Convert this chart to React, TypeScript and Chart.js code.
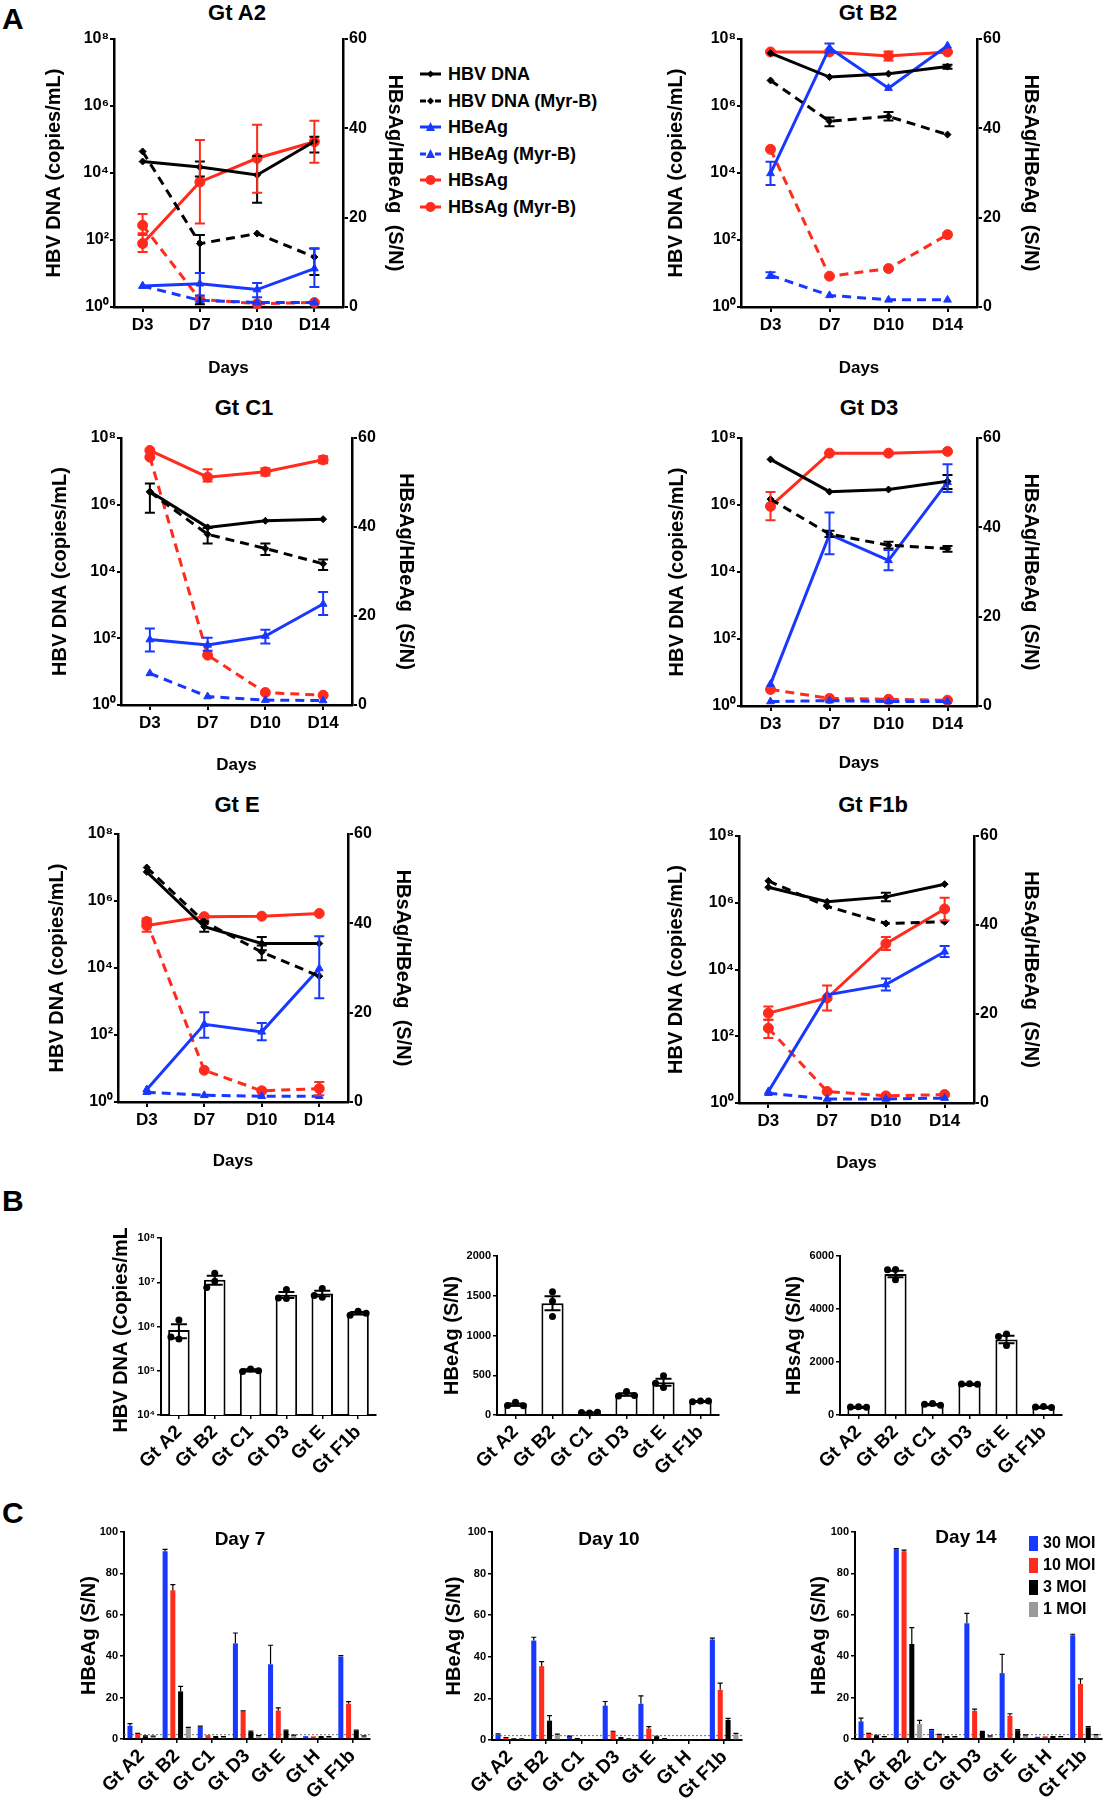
import React, { useEffect, useRef } from 'react';
import { Chart, registerables } from 'chart.js';

Chart.register(...registerables);

const FONT = '"Liberation Sans", Arial, Helvetica, sans-serif';
Chart.defaults.font.family = FONT;
Chart.defaults.color = '#000';

const BLUE = '#1838ff';
const RED = '#ff2b1c';
const BLACK = '#000000';
const GRAY = '#9a9a9a';

type Pair = [number, number] | null;
const NO_ERR: Pair[] = [null, null, null, null];

// ================= Panel A =================
const DAYS = ['D3', 'D7', 'D10', 'D14'];
const A_LOG_TICKS = [1, 1e2, 1e4, 1e6, 1e8];
const A_SN_MIN = 0;
const A_SN_MAX = 60;
const A_SN_STEP = 20;
const SERIES_NAMES = ['HBV DNA', 'HBV DNA (Myr-B)', 'HBeAg', 'HBeAg (Myr-B)', 'HBsAg', 'HBsAg (Myr-B)'];

// Gt A2
const GT_A2_DNA = [2.2e4, 1.5e4, 8.7e3, 8.7e4];
const GT_A2_DNA_ERR: Pair[] = [null, [7.8e3, 2.2e4], [1.3e3, 3.2e4], [4.1e4, 1.2e5]];
const GT_A2_DNA_MYRB = [4.4e4, 78, 156, 31];
const GT_A2_DNA_MYRB_ERR: Pair[] = [null, [1.2, 140], null, [9, 56]];
const GT_A2_HBEAG = [4.7, 5.2, 3.9, 8.6];
const GT_A2_HBEAG_ERR: Pair[] = [null, [2.6, 7.6], [2.2, 5.4], [4.5, 13.1]];
const GT_A2_HBEAG_MYRB = [4.7, 1.5, 1.0, 1.0];
const GT_A2_HBSAG = [14.2, 28.0, 33.3, 37.0];
const GT_A2_HBSAG_ERR: Pair[] = [[12.3, 16.1], [18.7, 37.4], [25.6, 40.8], [32.3, 41.7]];
const GT_A2_HBSAG_MYRB = [18.3, 1.7, 0.75, 1.0];
const GT_A2_HBSAG_MYRB_ERR: Pair[] = [[16.5, 20.8], null, null, null];

// Gt B2
const GT_B2_DNA = [3.8e7, 7.3e6, 9.2e6, 1.5e7];
const GT_B2_DNA_ERR: Pair[] = [null, null, null, [1.3e7, 1.7e7]];
const GT_B2_DNA_MYRB = [5.8e6, 3.5e5, 4.9e5, 1.4e5];
const GT_B2_DNA_MYRB_ERR: Pair[] = [null, [2.5e5, 4.5e5], [3.7e5, 6.6e5], null];
const GT_B2_HBEAG = [29.9, 58.0, 49.0, 58.5];
const GT_B2_HBEAG_ERR: Pair[] = [[27.3, 32.5], [57.0, 59.0], null, null];
const GT_B2_HBEAG_MYRB = [7.1, 2.6, 1.6, 1.6];
const GT_B2_HBEAG_MYRB_ERR: Pair[] = [[6.5, 7.8], null, null, null];
const GT_B2_HBSAG = [57.1, 57.1, 56.2, 57.1];
const GT_B2_HBSAG_ERR: Pair[] = [null, null, [55.2, 57.2], null];
const GT_B2_HBSAG_MYRB = [35.3, 6.9, 8.6, 16.2];

// Gt C1
const GT_C1_DNA = [2.5e6, 2.1e5, 3.3e5, 3.7e5];
const GT_C1_DNA_ERR: Pair[] = [[5.8e5, 4.3e6], null, null, null];
const GT_C1_DNA_MYRB = [2.4e6, 1.3e5, 4.9e4, 1.7e4];
const GT_C1_DNA_MYRB_ERR: Pair[] = [null, [6.9e4, 2.0e5], [3.1e4, 6.9e4], [1.1e4, 2.3e4]];
const GT_C1_HBEAG = [14.7, 13.5, 15.5, 22.7];
const GT_C1_HBEAG_ERR: Pair[] = [[12.0, 17.2], [12.2, 15.1], [13.8, 16.9], [20.2, 25.4]];
const GT_C1_HBEAG_MYRB = [7.1, 1.9, 1.1, 1.0];
const GT_C1_HBSAG = [57.2, 51.2, 52.4, 55.1];
const GT_C1_HBSAG_ERR: Pair[] = [null, [50.2, 53.0], [51.6, 53.2], [54.3, 55.9]];
const GT_C1_HBSAG_MYRB = [55.7, 11.2, 2.8, 2.2];

// Gt D3
const GT_D3_DNA = [2.3e7, 2.5e6, 2.9e6, 5.1e6];
const GT_D3_DNA_ERR: Pair[] = [null, null, null, [3.0e6, 7.8e6]];
const GT_D3_DNA_MYRB = [1.5e6, 1.35e5, 6.3e4, 5.0e4];
const GT_D3_DNA_MYRB_ERR: Pair[] = [null, [1.1e5, 1.7e5], [5.0e4, 8.0e4], [4.0e4, 6.0e4]];
const GT_D3_HBEAG = [4.9, 38.4, 32.6, 50.1];
const GT_D3_HBEAG_ERR: Pair[] = [null, [34.0, 43.3], [30.4, 34.9], [47.9, 54.1]];
const GT_D3_HBEAG_MYRB = [1.0, 1.2, 1.0, 1.0];
const GT_D3_HBSAG = [44.7, 56.6, 56.6, 57.0];
const GT_D3_HBSAG_ERR: Pair[] = [[41.6, 47.9], null, null, null];
const GT_D3_HBSAG_MYRB = [3.7, 1.7, 1.5, 1.3];

// Gt E
const GT_E_DNA = [7.4e6, 1.7e5, 5.4e4, 5.4e4];
const GT_E_DNA_ERR: Pair[] = [null, [1.2e5, 2.5e5], [3.4e4, 8.4e4], null];
const GT_E_DNA_MYRB = [1.0e7, 2.4e5, 3.0e4, 5.7e3];
const GT_E_DNA_MYRB_ERR: Pair[] = [null, null, [1.7e4, 4.7e4], null];
const GT_E_HBEAG = [2.8, 17.4, 15.7, 29.9];
const GT_E_HBEAG_ERR: Pair[] = [null, [14.4, 20.1], [13.8, 17.7], [23.2, 37.1]];
const GT_E_HBEAG_MYRB = [2.2, 1.5, 1.3, 1.3];
const GT_E_HBSAG = [39.5, 41.5, 41.6, 42.2];
const GT_E_HBSAG_ERR: Pair[] = [[38.1, 41.1], null, null, null];
const GT_E_HBSAG_MYRB = [40.4, 7.1, 2.5, 3.0];
const GT_E_HBSAG_MYRB_ERR: Pair[] = [null, null, null, [1.5, 4.5]];

// Gt F1b
const GT_F1B_DNA = [2.9e6, 1.07e6, 1.5e6, 3.6e6];
const GT_F1B_DNA_ERR: Pair[] = [null, null, [1.1e6, 2.0e6], null];
const GT_F1B_DNA_MYRB = [4.5e6, 7.8e5, 2.4e5, 2.7e5];
const GT_F1B_HBEAG = [2.6, 24.3, 26.6, 34.0];
const GT_F1B_HBEAG_ERR: Pair[] = [null, null, [25.3, 28.0], [32.8, 35.3]];
const GT_F1B_HBEAG_MYRB = [2.2, 0.9, 0.9, 1.1];
const GT_F1B_HBSAG = [20.2, 23.6, 35.8, 43.6];
const GT_F1B_HBSAG_ERR: Pair[] = [[18.7, 21.7], [20.8, 26.4], [34.4, 37.3], [41.0, 46.1]];
const GT_F1B_HBSAG_MYRB = [16.8, 2.6, 1.6, 1.9];
const GT_F1B_HBSAG_MYRB_ERR: Pair[] = [[14.6, 18.7], null, null, null];

// ================= Panel B =================
const B_LABELS = ['Gt A2', 'Gt B2', 'Gt C1', 'Gt D3', 'Gt E', 'Gt F1b'];
const B_DNA_TICKS = [1e4, 1e5, 1e6, 1e7, 1e8];
const B_DNA_MEAN = [8.3e5, 1.14e7, 1.02e5, 5.2e6, 5.6e6, 2.0e6];
const B_DNA_SEM = [2.9e5, 2.6e6, 6e3, 8e5, 8e5, 1.3e5];
const B_DNA_REPS = [[1.4e6, 5.2e5, 5.8e5], [1.6e7, 1.05e7, 7.6e6], [1.1e5, 9.6e4, 1.0e5], [6.9e6, 4.3e6, 4.4e6], [7.2e6, 4.6e6, 5.0e6], [2.2e6, 1.8e6, 2.0e6]];
const B_HBEAG_MAX = 2000;
const B_HBEAG_STEP = 500;
const B_HBEAG_MEAN = [130, 1406, 30, 258, 412, 172];
const B_HBEAG_SEM = [14, 88, 3, 16, 45, 4];
const B_HBEAG_REPS = [[160, 118, 115], [1550, 1430, 1240], [25, 30, 35], [295, 240, 245], [495, 345, 400], [175, 166, 175]];
const B_HBSAG_MAX = 6000;
const B_HBSAG_STEP = 2000;
const B_HBSAG_MEAN = [300, 5320, 400, 1170, 2850, 300];
const B_HBSAG_SEM = [12, 120, 18, 10, 140, 14];
const B_HBSAG_REPS = [[315, 300, 290], [5490, 5480, 5100], [430, 410, 370], [1180, 1170, 1160], [3060, 2960, 2620], [320, 300, 285]];

// ================= Panel C =================
const C_LABELS = ['Gt A2', 'Gt B2', 'Gt C1', 'Gt D3', 'Gt E', 'Gt H', 'Gt F1b'];
const C_SERIES = ['30 MOI', '10 MOI', '3 MOI', '1 MOI'];
const C_MAX = 100;
const C_STEP = 20;
const C_CUTOFF = 2.1;

const D7_30 = [6.4, 90.7, 5.9, 46.2, 36.1, 1.4, 39.8];
const D7_10 = [2.4, 71.9, 1.9, 13.3, 13.8, 1.3, 17.0];
const D7_3 = [1.3, 23.0, 1.0, 3.4, 4.0, 1.0, 4.0];
const D7_1 = [1.3, 5.3, 1.0, 1.6, 1.8, 1.0, 1.4];
const D7_30_ERR = [1.0, 0.9, 0.3, 5.0, 9.2, 0, 0.5];
const D7_10_ERR = [0.3, 2.7, 0, 0.3, 1.2, 0, 1.1];
const D7_3_ERR = [0.2, 2.4, 0.1, 0.4, 0.3, 0.1, 0.3];
const D7_1_ERR = [0.1, 0.3, 0.1, 0.1, 0.1, 0.1, 0.1];

const D10_30 = [2.6, 47.8, 1.8, 16.5, 17.4, 0.4, 48.3];
const D10_10 = [1.1, 35.5, 0.6, 3.9, 5.5, 0.4, 24.1];
const D10_3 = [0.5, 9.3, 0.3, 1.0, 1.6, 0.4, 9.6];
const D10_1 = [0.5, 2.4, 0.3, 0.5, 0.6, 0.4, 2.7];
const D10_30_ERR = [0.3, 1.6, 0.1, 2.0, 3.8, 0, 0.7];
const D10_10_ERR = [0.1, 2.2, 0.1, 0.3, 0.9, 0, 3.2];
const D10_3_ERR = [0.1, 2.4, 0, 0.2, 0.2, 0, 0.8];
const D10_1_ERR = [0.1, 0.4, 0, 0.1, 0.1, 0, 0.5];

const D14_30 = [8.5, 91.7, 4.3, 55.9, 31.8, 1.1, 50.1];
const D14_10 = [2.4, 90.7, 2.1, 13.6, 11.2, 1.3, 26.6];
const D14_3 = [1.6, 45.9, 1.0, 3.4, 4.2, 1.1, 5.6];
const D14_1 = [1.1, 7.2, 1.0, 1.4, 1.9, 1.1, 1.9];
const D14_30_ERR = [1.6, 0.3, 0.3, 4.8, 9.1, 0, 0.5];
const D14_10_ERR = [0.3, 0.5, 0.1, 0.8, 1.0, 0, 2.4];
const D14_3_ERR = [0.2, 7.9, 0.1, 0.3, 0.3, 0.1, 0.4];
const D14_1_ERR = [0.1, 1.8, 0.1, 0.1, 0.1, 0.1, 0.2];

// ================= helpers =================
const SUP: Record<string, string> = { '0': '⁰', '1': '¹', '2': '²', '3': '³', '4': '⁴', '5': '⁵', '6': '⁶', '7': '⁷', '8': '⁸', '9': '⁹', '-': '⁻' };
function powLabel(v: number): string {
  const e = Math.round(Math.log10(v));
  return '10' + String(e).split('').map((c) => SUP[c]).join('');
}
function plainLabel(v: any): string {
  return String(Math.round(Number(v)));
}
function fnt(size: number) {
  return { family: FONT, size, weight: 'bold' as const };
}

const marksPlugin: any = {
  id: 'marks',
  beforeDatasetsDraw(chart: any, _a: any, opts: any) {
    if (!opts || opts.cutoff == null) return;
    const ys = chart.scales.y;
    const area = chart.chartArea;
    const ctx = chart.ctx;
    const y = ys.getPixelForValue(opts.cutoff);
    ctx.save();
    ctx.strokeStyle = '#707070';
    ctx.lineWidth = 1;
    ctx.setLineDash([2, 2]);
    ctx.beginPath();
    ctx.moveTo(area.left, y);
    ctx.lineTo(area.right, y);
    ctx.stroke();
    ctx.restore();
  },
  afterDatasetsDraw(chart: any, _a: any, opts: any) {
    const ctx = chart.ctx;
    const cap = (opts && opts.cap) || 5;
    const lw = (opts && opts.lineWidth) || 2;
    ctx.save();
    ctx.setLineDash([]);
    chart.data.datasets.forEach((ds: any, i: number) => {
      const meta = chart.getDatasetMeta(i);
      const ys = chart.scales[meta.yAxisID];
      const pts = meta.data;
      if (ds.errPairs) {
        ctx.strokeStyle = ds.borderColor;
        ctx.lineWidth = lw;
        ds.errPairs.forEach((p: any, j: number) => {
          if (!p || !pts[j]) return;
          const x = pts[j].x;
          const y1 = ys.getPixelForValue(p[0]);
          const y2 = ys.getPixelForValue(p[1]);
          ctx.beginPath();
          ctx.moveTo(x, y1);
          ctx.lineTo(x, y2);
          ctx.moveTo(x - cap, y1);
          ctx.lineTo(x + cap, y1);
          ctx.moveTo(x - cap, y2);
          ctx.lineTo(x + cap, y2);
          ctx.stroke();
        });
      }
      if (ds.errSem) {
        ctx.strokeStyle = '#000';
        ctx.lineWidth = lw;
        ds.errSem.forEach((s: number, j: number) => {
          if (!s || !pts[j]) return;
          const m = ds.data[j];
          const x = pts[j].x;
          const yTop = ys.getPixelForValue(m + s);
          const yBot = ds.errUpOnly ? ys.getPixelForValue(m) : ys.getPixelForValue(m - s);
          ctx.beginPath();
          ctx.moveTo(x, yBot);
          ctx.lineTo(x, yTop);
          ctx.moveTo(x - cap, yTop);
          ctx.lineTo(x + cap, yTop);
          if (!ds.errUpOnly) {
            ctx.moveTo(x - cap, yBot);
            ctx.lineTo(x + cap, yBot);
          }
          ctx.stroke();
        });
      }
      if (ds.reps) {
        const r = (opts && opts.dotR) || 3.5;
        ctx.fillStyle = '#000';
        ds.reps.forEach((vals: number[], j: number) => {
          if (!pts[j]) return;
          const cx = pts[j].x;
          const placed: number[][] = [];
          vals.forEach((v) => {
            const y = ys.getPixelForValue(v);
            let x = cx;
            for (const k of [0, -1, 1, -2, 2]) {
              const tx = cx + k * (2 * r + 1);
              if (placed.every(([px, py]) => Math.hypot(px - tx, py - y) >= 2 * r)) {
                x = tx;
                break;
              }
            }
            placed.push([x, y]);
            ctx.beginPath();
            ctx.arc(x, y, r, 0, Math.PI * 2);
            ctx.fill();
          });
        });
      }
    });
    ctx.restore();
  },
};

interface GtData {
  dna: number[]; dnaErr: Pair[]; dnaM: number[]; dnaMErr: Pair[];
  e: number[]; eErr: Pair[]; eM: number[]; eMErr: Pair[];
  s: number[]; sErr: Pair[]; sM: number[]; sMErr: Pair[];
}
interface LineGeom { pl: number; pt: number; pr: number; pb: number; ltx: number; rtx: number; dy: number; }

function lineDs(label: string, data: number[], err: Pair[], color: string, dashed: boolean, style: string, radius: number, axis: string) {
  return {
    label, data, errPairs: err, yAxisID: axis,
    borderColor: color, backgroundColor: color, borderWidth: 3,
    borderDash: dashed ? [9, 6] : [],
    pointStyle: style, pointRadius: radius, pointBorderWidth: 1,
    pointBorderColor: color, pointBackgroundColor: color,
    tension: 0, fill: false, clip: 8,
  };
}

function axisCommon(tick: number) {
  return {
    grid: { drawOnChartArea: false, drawTicks: true, tickLength: tick, color: '#000', lineWidth: 2 },
    border: { display: true, color: '#000', width: 2.5 },
  };
}

function lineSpec(g: LineGeom, d: GtData) {
  const cl = Math.round(g.ltx - 14);
  const cr = Math.round(g.rtx + 14);
  const ct = g.pt - 14;
  const cb = Math.round(g.dy + 13);
  const make = () => ({
    type: 'line',
    data: {
      labels: DAYS,
      datasets: [
        lineDs(SERIES_NAMES[0], d.dna, d.dnaErr, BLACK, false, 'rectRot', 3.5, 'y'),
        lineDs(SERIES_NAMES[1], d.dnaM, d.dnaMErr, BLACK, true, 'rectRot', 3.5, 'y'),
        lineDs(SERIES_NAMES[2], d.e, d.eErr, BLUE, false, 'triangle', 4.5, 'y1'),
        lineDs(SERIES_NAMES[3], d.eM, d.eMErr, BLUE, true, 'triangle', 4.5, 'y1'),
        lineDs(SERIES_NAMES[4], d.s, d.sErr, RED, false, 'circle', 5, 'y1'),
        lineDs(SERIES_NAMES[5], d.sM, d.sMErr, RED, true, 'circle', 5, 'y1'),
      ],
    },
    options: {
      responsive: false,
      animation: false,
      events: [],
      layout: { padding: { top: g.pt - ct, left: 0, right: 0, bottom: 0 } },
      plugins: { legend: { display: false }, tooltip: { enabled: false }, title: { display: false }, marks: { cap: 5, lineWidth: 2 } },
      scales: {
        x: {
          type: 'category',
          offset: true,
          ...axisCommon(5),
          ticks: { font: fnt(17), color: '#000', padding: 3, maxRotation: 0, autoSkip: false },
          title: { display: true, text: 'Days', font: fnt(17), color: '#000', padding: { top: 0, bottom: cb - g.dy - 10.2 } },
          afterFit: (s: any) => { s.height = cb - g.pb; },
        },
        y: {
          type: 'logarithmic',
          position: 'left',
          min: A_LOG_TICKS[0],
          max: A_LOG_TICKS[A_LOG_TICKS.length - 1],
          afterBuildTicks: (s: any) => { s.ticks = A_LOG_TICKS.map((v) => ({ value: v, major: true })); },
          ...axisCommon(4),
          ticks: { font: fnt(16), color: '#000', padding: 1, autoSkip: false, callback: (v: any) => powLabel(Number(v)) },
          title: { display: true, text: 'HBV DNA (copies/mL)', font: fnt(20), color: '#000', padding: { top: g.ltx - cl - 12, bottom: 0 } },
          afterFit: (s: any) => { s.width = g.pl - cl; },
        },
        y1: {
          type: 'linear',
          position: 'right',
          min: A_SN_MIN,
          max: A_SN_MAX,
          ...axisCommon(5),
          ticks: { stepSize: A_SN_STEP, font: fnt(16), color: '#000', padding: 1, callback: plainLabel },
          title: { display: true, text: 'HBsAg/HBeAg  (S/N)', font: fnt(20), color: '#000', padding: { top: cr - 12 - g.rtx, bottom: 0 } },
          afterFit: (s: any) => { s.width = cr - g.pr; },
        },
      },
    },
    plugins: [marksPlugin],
  });
  return { x: cl, y: ct, w: cr - cl, h: cb - ct, make };
}

interface BarGeom { pl: number; pt: number; pr: number; pb: number; ltx: number; cb: number; }

function barSpec(g: BarGeom, labels: string[], datasets: any[], yOpts: any, yTitle: string, markOpts: any) {
  const cl = Math.round(g.ltx - 14);
  const cr = g.pr + 6;
  const ct = g.pt - 10;
  const make = () => ({
    type: 'bar',
    data: { labels, datasets: datasets.map((d) => ({ ...d })) },
    options: {
      responsive: false,
      animation: false,
      events: [],
      layout: { padding: { top: g.pt - ct, right: cr - g.pr, left: 0, bottom: 0 } },
      plugins: { legend: { display: false }, tooltip: { enabled: false }, marks: markOpts },
      scales: {
        x: {
          type: 'category',
          offset: true,
          grid: { offset: false, drawOnChartArea: false, drawTicks: true, tickLength: 4, color: '#000', lineWidth: 1.5 },
          border: { display: true, color: '#000', width: 2 },
          ticks: { font: fnt(19), color: '#000', padding: 2, minRotation: 45, maxRotation: 45, autoSkip: false },
          afterFit: (s: any) => { s.height = g.cb - g.pb; },
        },
        y: {
          ...yOpts,
          position: 'left',
          grid: { drawOnChartArea: false, drawTicks: true, tickLength: 4, color: '#000', lineWidth: 1.5 },
          border: { display: true, color: '#000', width: 2 },
          title: { display: true, text: yTitle, font: fnt(20), color: '#000', padding: { top: g.ltx - cl - 12, bottom: 0 } },
          afterFit: (s: any) => { s.width = g.pl - cl; },
        },
      },
    },
    plugins: [marksPlugin],
  });
  return { x: cl, y: ct, w: cr - cl, h: g.cb - ct, make };
}

function bDataset(mean: number[], sem: number[], reps: number[][]) {
  return [{
    label: 'mean', data: mean, errSem: sem, reps,
    backgroundColor: '#ffffff', borderColor: '#000', borderWidth: 2,
    barPercentage: 0.6, categoryPercentage: 1,
  }];
}

function cDatasets(vals: number[][], errs: number[][]) {
  const colors = [BLUE, RED, BLACK, GRAY];
  return C_SERIES.map((label, i) => ({
    label, data: vals[i], errSem: errs[i], errUpOnly: true,
    backgroundColor: colors[i], borderWidth: 0,
    barPercentage: 0.65, categoryPercentage: 0.88,
  }));
}

function linearY(max: number, step: number) {
  return { type: 'linear', min: 0, max, ticks: { stepSize: step, font: fnt(11), color: '#000', padding: 2, callback: plainLabel } };
}

function ChartBox({ spec }: { spec: any }) {
  const ref = useRef<HTMLCanvasElement | null>(null);
  useEffect(() => {
    if (!ref.current) return;
    const ch = new Chart(ref.current, spec.make());
    return () => ch.destroy();
  }, []);
  return (
    <canvas
      ref={ref}
      width={spec.w}
      height={spec.h}
      style={{ position: 'absolute', left: spec.x, top: spec.y, width: spec.w, height: spec.h, display: 'block' }}
    />
  );
}

function Txt({ x, y, size, children, weight = 700 }: { x: number; y: number; size: number; children: any; weight?: number }) {
  return (
    <div
      style={{
        position: 'absolute', left: x, top: y, transform: 'translate(-50%, -50%)',
        fontFamily: FONT, fontWeight: weight, fontSize: size, lineHeight: 1, whiteSpace: 'nowrap', color: '#000',
      }}
    >
      {children}
    </div>
  );
}

function Letter({ x, y, ch }: { x: number; y: number; ch: string }) {
  return (
    <div style={{ position: 'absolute', left: x, top: y, fontFamily: FONT, fontWeight: 900, fontSize: 30, lineHeight: 1, color: '#000' }}>
      {ch}
    </div>
  );
}

function LegendA() {
  const items = [
    { color: BLACK, dashed: false, marker: 'diamond' },
    { color: BLACK, dashed: true, marker: 'diamond' },
    { color: BLUE, dashed: false, marker: 'triangle' },
    { color: BLUE, dashed: true, marker: 'triangle' },
    { color: RED, dashed: false, marker: 'circle' },
    { color: RED, dashed: true, marker: 'circle' },
  ];
  return (
    <>
      {items.map((it, i) => {
        const cy = 74 + i * 26.5;
        const c = it.color;
        let mk: any = null;
        if (it.marker === 'diamond') mk = <polygon points="11.5,3.5 15,7 11.5,10.5 8,7" fill={c} />;
        if (it.marker === 'triangle') mk = <polygon points="11.5,2 16,11 7,11" fill={c} />;
        if (it.marker === 'circle') mk = <circle cx={11.5} cy={7} r={5} fill={c} />;
        return (
          <div key={i} style={{ position: 'absolute', left: 419, top: cy - 11, height: 22, display: 'flex', alignItems: 'center' }}>
            <svg width={26} height={14} style={{ display: 'block' }}>
              {it.dashed ? (
                <>
                  <line x1={1} y1={7} x2={7} y2={7} stroke={c} strokeWidth={3} />
                  <line x1={16} y1={7} x2={22} y2={7} stroke={c} strokeWidth={3} />
                </>
              ) : (
                <line x1={1} y1={7} x2={22} y2={7} stroke={c} strokeWidth={3} />
              )}
              {mk}
            </svg>
            <span style={{ marginLeft: 3, fontFamily: FONT, fontWeight: 700, fontSize: 18, lineHeight: 1, whiteSpace: 'nowrap' }}>
              {SERIES_NAMES[i]}
            </span>
          </div>
        );
      })}
    </>
  );
}

function LegendC() {
  const colors = [BLUE, RED, BLACK, GRAY];
  return (
    <>
      {C_SERIES.map((name, i) => {
        const cy = 1543 + i * 22;
        return (
          <div key={i} style={{ position: 'absolute', left: 1029, top: cy - 8, height: 16, display: 'flex', alignItems: 'center' }}>
            <div style={{ width: 9, height: 15, background: colors[i] }} />
            <span style={{ marginLeft: 5, fontFamily: FONT, fontWeight: 700, fontSize: 16, lineHeight: 1, whiteSpace: 'nowrap' }}>{name}</span>
          </div>
        );
      })}
    </>
  );
}

export default function App() {
  const gA2: GtData = {
    dna: GT_A2_DNA, dnaErr: GT_A2_DNA_ERR, dnaM: GT_A2_DNA_MYRB, dnaMErr: GT_A2_DNA_MYRB_ERR,
    e: GT_A2_HBEAG, eErr: GT_A2_HBEAG_ERR, eM: GT_A2_HBEAG_MYRB, eMErr: NO_ERR,
    s: GT_A2_HBSAG, sErr: GT_A2_HBSAG_ERR, sM: GT_A2_HBSAG_MYRB, sMErr: GT_A2_HBSAG_MYRB_ERR,
  };
  const gB2: GtData = {
    dna: GT_B2_DNA, dnaErr: GT_B2_DNA_ERR, dnaM: GT_B2_DNA_MYRB, dnaMErr: GT_B2_DNA_MYRB_ERR,
    e: GT_B2_HBEAG, eErr: GT_B2_HBEAG_ERR, eM: GT_B2_HBEAG_MYRB, eMErr: GT_B2_HBEAG_MYRB_ERR,
    s: GT_B2_HBSAG, sErr: GT_B2_HBSAG_ERR, sM: GT_B2_HBSAG_MYRB, sMErr: NO_ERR,
  };
  const gC1: GtData = {
    dna: GT_C1_DNA, dnaErr: GT_C1_DNA_ERR, dnaM: GT_C1_DNA_MYRB, dnaMErr: GT_C1_DNA_MYRB_ERR,
    e: GT_C1_HBEAG, eErr: GT_C1_HBEAG_ERR, eM: GT_C1_HBEAG_MYRB, eMErr: NO_ERR,
    s: GT_C1_HBSAG, sErr: GT_C1_HBSAG_ERR, sM: GT_C1_HBSAG_MYRB, sMErr: NO_ERR,
  };
  const gD3: GtData = {
    dna: GT_D3_DNA, dnaErr: GT_D3_DNA_ERR, dnaM: GT_D3_DNA_MYRB, dnaMErr: GT_D3_DNA_MYRB_ERR,
    e: GT_D3_HBEAG, eErr: GT_D3_HBEAG_ERR, eM: GT_D3_HBEAG_MYRB, eMErr: NO_ERR,
    s: GT_D3_HBSAG, sErr: GT_D3_HBSAG_ERR, sM: GT_D3_HBSAG_MYRB, sMErr: NO_ERR,
  };
  const gE: GtData = {
    dna: GT_E_DNA, dnaErr: GT_E_DNA_ERR, dnaM: GT_E_DNA_MYRB, dnaMErr: GT_E_DNA_MYRB_ERR,
    e: GT_E_HBEAG, eErr: GT_E_HBEAG_ERR, eM: GT_E_HBEAG_MYRB, eMErr: NO_ERR,
    s: GT_E_HBSAG, sErr: GT_E_HBSAG_ERR, sM: GT_E_HBSAG_MYRB, sMErr: GT_E_HBSAG_MYRB_ERR,
  };
  const gF1b: GtData = {
    dna: GT_F1B_DNA, dnaErr: GT_F1B_DNA_ERR, dnaM: GT_F1B_DNA_MYRB, dnaMErr: NO_ERR,
    e: GT_F1B_HBEAG, eErr: GT_F1B_HBEAG_ERR, eM: GT_F1B_HBEAG_MYRB, eMErr: NO_ERR,
    s: GT_F1B_HBSAG, sErr: GT_F1B_HBSAG_ERR, sM: GT_F1B_HBSAG_MYRB, sMErr: GT_F1B_HBSAG_MYRB_ERR,
  };

  const specs = [
    lineSpec({ pl: 114, pt: 39, pr: 343, pb: 307, ltx: 54, rtx: 395, dy: 368 }, gA2),
    lineSpec({ pl: 741, pt: 39, pr: 977, pb: 307, ltx: 676, rtx: 1031, dy: 368 }, gB2),
    lineSpec({ pl: 121, pt: 438, pr: 352, pb: 705, ltx: 60, rtx: 406, dy: 765 }, gC1),
    lineSpec({ pl: 741, pt: 438, pr: 977, pb: 706, ltx: 677, rtx: 1031, dy: 763 }, gD3),
    lineSpec({ pl: 118, pt: 834, pr: 348, pb: 1102, ltx: 57, rtx: 403, dy: 1161 }, gE),
    lineSpec({ pl: 739, pt: 836, pr: 974, pb: 1103, ltx: 676, rtx: 1031, dy: 1163 }, gF1b),

    barSpec(
      { pl: 161, pt: 1238, pr: 376, pb: 1415, ltx: 121, cb: 1503 },
      B_LABELS, bDataset(B_DNA_MEAN, B_DNA_SEM, B_DNA_REPS),
      {
        type: 'logarithmic', min: B_DNA_TICKS[0], max: B_DNA_TICKS[B_DNA_TICKS.length - 1],
        afterBuildTicks: (s: any) => { s.ticks = B_DNA_TICKS.map((v) => ({ value: v, major: true })); },
        ticks: { font: fnt(11), color: '#000', padding: 2, autoSkip: false, callback: (v: any) => powLabel(Number(v)) },
      },
      'HBV DNA (Copies/mL)', { cap: 8, lineWidth: 2, dotR: 3.5 },
    ),
    barSpec(
      { pl: 497, pt: 1256, pr: 719, pb: 1415, ltx: 452, cb: 1503 },
      B_LABELS, bDataset(B_HBEAG_MEAN, B_HBEAG_SEM, B_HBEAG_REPS),
      linearY(B_HBEAG_MAX, B_HBEAG_STEP),
      'HBeAg (S/N)', { cap: 8, lineWidth: 2, dotR: 3.5 },
    ),
    barSpec(
      { pl: 840, pt: 1256, pr: 1062, pb: 1415, ltx: 794, cb: 1503 },
      B_LABELS, bDataset(B_HBSAG_MEAN, B_HBSAG_SEM, B_HBSAG_REPS),
      linearY(B_HBSAG_MAX, B_HBSAG_STEP),
      'HBsAg (S/N)', { cap: 8, lineWidth: 2, dotR: 3.5 },
    ),

    barSpec(
      { pl: 124, pt: 1532, pr: 370, pb: 1739, ltx: 89, cb: 1800 },
      C_LABELS, cDatasets([D7_30, D7_10, D7_3, D7_1], [D7_30_ERR, D7_10_ERR, D7_3_ERR, D7_1_ERR]),
      linearY(C_MAX, C_STEP),
      'HBeAg (S/N)', { cap: 2.5, lineWidth: 1.2, cutoff: C_CUTOFF },
    ),
    barSpec(
      { pl: 492, pt: 1532, pr: 742, pb: 1740, ltx: 454, cb: 1800 },
      C_LABELS, cDatasets([D10_30, D10_10, D10_3, D10_1], [D10_30_ERR, D10_10_ERR, D10_3_ERR, D10_1_ERR]),
      linearY(C_MAX, C_STEP),
      'HBeAg (S/N)', { cap: 2.5, lineWidth: 1.2, cutoff: C_CUTOFF },
    ),
    barSpec(
      { pl: 855, pt: 1532, pr: 1102, pb: 1739, ltx: 819, cb: 1800 },
      C_LABELS, cDatasets([D14_30, D14_10, D14_3, D14_1], [D14_30_ERR, D14_10_ERR, D14_3_ERR, D14_1_ERR]),
      linearY(C_MAX, C_STEP),
      'HBeAg (S/N)', { cap: 2.5, lineWidth: 1.2, cutoff: C_CUTOFF },
    ),
  ];

  return (
    <div style={{ position: 'absolute', left: 0, top: 0, width: 1108, height: 1800, overflow: 'hidden', background: '#fff' }}>
      {specs.map((s, i) => <ChartBox key={i} spec={s} />)}

      <Letter x={2} y={4} ch="A" />
      <Letter x={2} y={1186} ch="B" />
      <Letter x={2} y={1498} ch="C" />

      <Txt x={237} y={13} size={22}>Gt A2</Txt>
      <Txt x={868} y={13} size={22}>Gt B2</Txt>
      <Txt x={244} y={408} size={22}>Gt C1</Txt>
      <Txt x={869} y={408} size={22}>Gt D3</Txt>
      <Txt x={237} y={805} size={22}>Gt E</Txt>
      <Txt x={873} y={805} size={22}>Gt F1b</Txt>

      <Txt x={240} y={1538} size={19}>Day 7</Txt>
      <Txt x={609} y={1538} size={19}>Day 10</Txt>
      <Txt x={966} y={1536} size={19}>Day 14</Txt>

      <LegendA />
      <LegendC />
    </div>
  );
}
